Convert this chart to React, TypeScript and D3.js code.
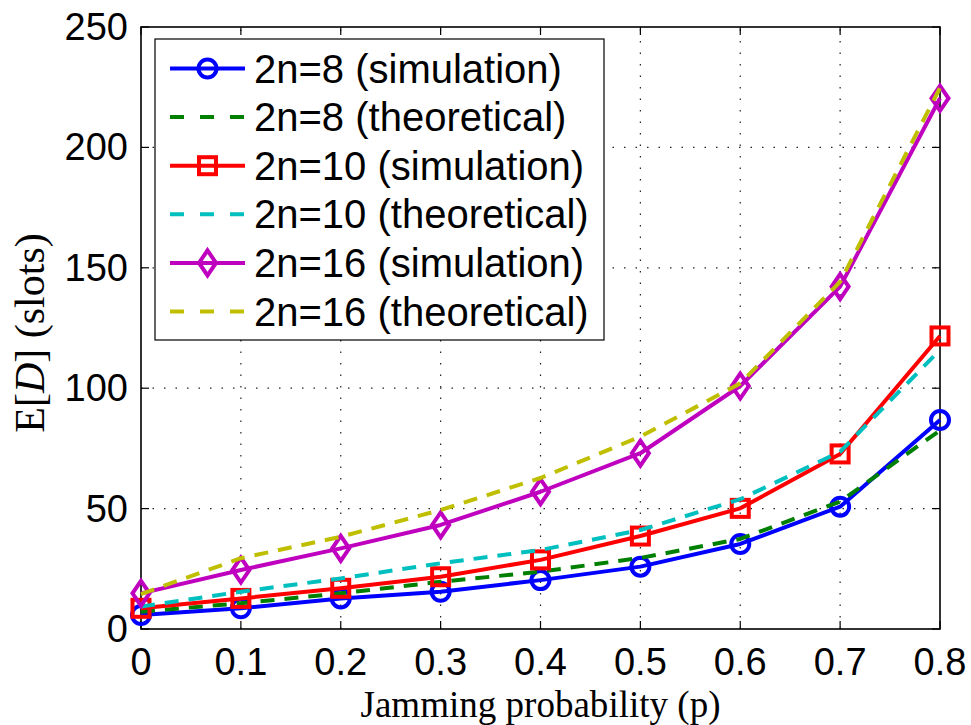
import * as d3 from "d3";
import React from "react";

// jamming probability values on the x axis
const probs = [0, 0.1, 0.2, 0.3, 0.4, 0.5, 0.6, 0.7, 0.8];
const xTicks = [0, 0.1, 0.2, 0.3, 0.4, 0.5, 0.6, 0.7, 0.8];
const yTicks = [0, 50, 100, 150, 200, 250];

// E[D] in slots
const sim8 = [5.8, 8.6, 12.7, 15.5, 20.3, 25.9, 35.3, 50.8, 86.8];
const theo8 = [7.2, 10.7, 14.8, 19.6, 23.8, 29.5, 37.4, 52.9, 82.5];
const sim10 = [8.6, 12.7, 16.9, 21.7, 28.7, 38.6, 50.1, 72.7, 121.7];
const theo10 = [9.3, 15.5, 21, 27.3, 32.8, 41.1, 53.9, 73.6, 115.9];
const sim16 = [14.8, 24.5, 33.5, 43.2, 57, 73, 100.9, 142.2, 220.4];
const theo16 = [14.5, 29.4, 38.3, 49.4, 62.7, 79.9, 102, 144.2, 224.7];

const labels = [
  "2n=8 (simulation)",
  "2n=8 (theoretical)",
  "2n=10 (simulation)",
  "2n=10 (theoretical)",
  "2n=16 (simulation)",
  "2n=16 (theoretical)",
];

const series = [
  { values: sim8, color: "#0000ff", dashed: false, marker: "circle" },
  { values: theo8, color: "#008000", dashed: true, marker: "none" },
  { values: sim10, color: "#ff0000", dashed: false, marker: "square" },
  { values: theo10, color: "#00bfbf", dashed: true, marker: "none" },
  { values: sim16, color: "#bf00bf", dashed: false, marker: "diamond" },
  { values: theo16, color: "#bfbf00", dashed: true, marker: "none" },
];

const W = 971;
const H = 725;
const margin = { top: 27, right: 31, bottom: 96, left: 141 };
const sans = "'Liberation Sans', Arial, Helvetica, sans-serif";
const serif = "'Liberation Serif', 'DejaVu Serif', serif";
const lw = 4;

const Marker = ({ type, x, y, color }) => {
  if (type === "circle") {
    return <circle cx={x} cy={y} r={9} fill="none" stroke={color} strokeWidth={lw} />;
  }
  if (type === "square") {
    return <rect x={x - 8.5} y={y - 8.5} width={17} height={17} fill="none" stroke={color} strokeWidth={lw} />;
  }
  if (type === "diamond") {
    const p = `M${x},${y - 12.5}L${x + 8.5},${y}L${x},${y + 12.5}L${x - 8.5},${y}Z`;
    return <path d={p} fill="none" stroke={color} strokeWidth={lw} />;
  }
  return null;
};

export default function App() {
  const x = d3.scaleLinear().domain([0, 0.8]).range([margin.left, W - margin.right]);
  const y = d3.scaleLinear().domain([0, 250]).range([H - margin.bottom, margin.top]);

  const line = d3
    .line<number>()
    .x((d, i) => x(probs[i]))
    .y((d) => y(d));

  const x0 = x(0), x1 = x(0.8), y0 = y(0), y1 = y(250);
  const tick = 8;

  // legend geometry
  const lg = { x: 155, y: 39, w: 449, h: 301 };
  const rowY = (i) => 68.5 + i * 48.6;

  return (
    <svg width={W} height={H} style={{ position: "absolute", left: 0, top: 0, background: "#fff" }}>
      <rect x={0} y={0} width={W} height={H} fill="#fff" />

      {/* grid */}
      {xTicks.slice(1, -1).map((t) => (
        <line key={"gx" + t} x1={x(t)} x2={x(t)} y1={y0} y2={y1} stroke="#222" strokeWidth={1.2} strokeDasharray="1.5,10" />
      ))}
      {yTicks.slice(1, -1).map((t) => (
        <line key={"gy" + t} x1={x0} x2={x1} y1={y(t)} y2={y(t)} stroke="#222" strokeWidth={1.2} strokeDasharray="1.5,10" />
      ))}

      {/* ticks on all sides */}
      {xTicks.map((t) => (
        <g key={"tx" + t}>
          <line x1={x(t)} x2={x(t)} y1={y0} y2={y0 - tick} stroke="#000" strokeWidth={1.2} />
          <line x1={x(t)} x2={x(t)} y1={y1} y2={y1 + tick} stroke="#000" strokeWidth={1.2} />
          <text x={x(t)} y={675} textAnchor="middle" fontFamily={sans} fontSize={38}>
            {t === 0 ? "0" : d3.format(".1f")(t)}
          </text>
        </g>
      ))}
      {yTicks.map((t) => (
        <g key={"ty" + t}>
          <line x1={x0} x2={x0 + tick} y1={y(t)} y2={y(t)} stroke="#000" strokeWidth={1.2} />
          <line x1={x1} x2={x1 - tick} y1={y(t)} y2={y(t)} stroke="#000" strokeWidth={1.2} />
          <text x={128} y={y(t) + 13} textAnchor="end" fontFamily={sans} fontSize={38}>
            {t}
          </text>
        </g>
      ))}

      {/* frame */}
      <rect x={x0} y={y1} width={x1 - x0} height={y0 - y1} fill="none" stroke="#000" strokeWidth={1.6} />

      {/* series */}
      {series.map((s, i) => (
        <g key={"s" + i}>
          <path
            d={line(s.values)}
            fill="none"
            stroke={s.color}
            strokeWidth={lw}
            strokeDasharray={s.dashed ? "14,10" : undefined}
            strokeLinejoin="round"
          />
          {s.values.map((v, j) => (
            <Marker key={j} type={s.marker} x={x(probs[j])} y={y(v)} color={s.color} />
          ))}
        </g>
      ))}

      {/* legend */}
      <rect x={lg.x} y={lg.y} width={lg.w} height={lg.h} fill="#fff" stroke="#000" strokeWidth={1.2} />
      {series.map((s, i) => (
        <g key={"l" + i}>
          <line
            x1={170}
            x2={245}
            y1={rowY(i)}
            y2={rowY(i)}
            stroke={s.color}
            strokeWidth={lw}
            strokeDasharray={s.dashed ? "14,16" : undefined}
          />
          <Marker type={s.marker} x={207.5} y={rowY(i)} color={s.color} />
          <text x={254} y={rowY(i) + 14} fontFamily={sans} fontSize={40}>
            {labels[i]}
          </text>
        </g>
      ))}

      {/* axis labels */}
      <text x={(x0 + x1) / 2} y={717} textAnchor="middle" fontFamily={serif} fontSize={38} textLength={360} lengthAdjust="spacingAndGlyphs">
        Jamming probability (p)
      </text>
      <text transform="translate(44,333) rotate(-90)" textAnchor="middle" fontFamily={serif} fontSize={42}>
        E[<tspan fontStyle="italic">D</tspan>] (slots)
      </text>
    </svg>
  );
}
